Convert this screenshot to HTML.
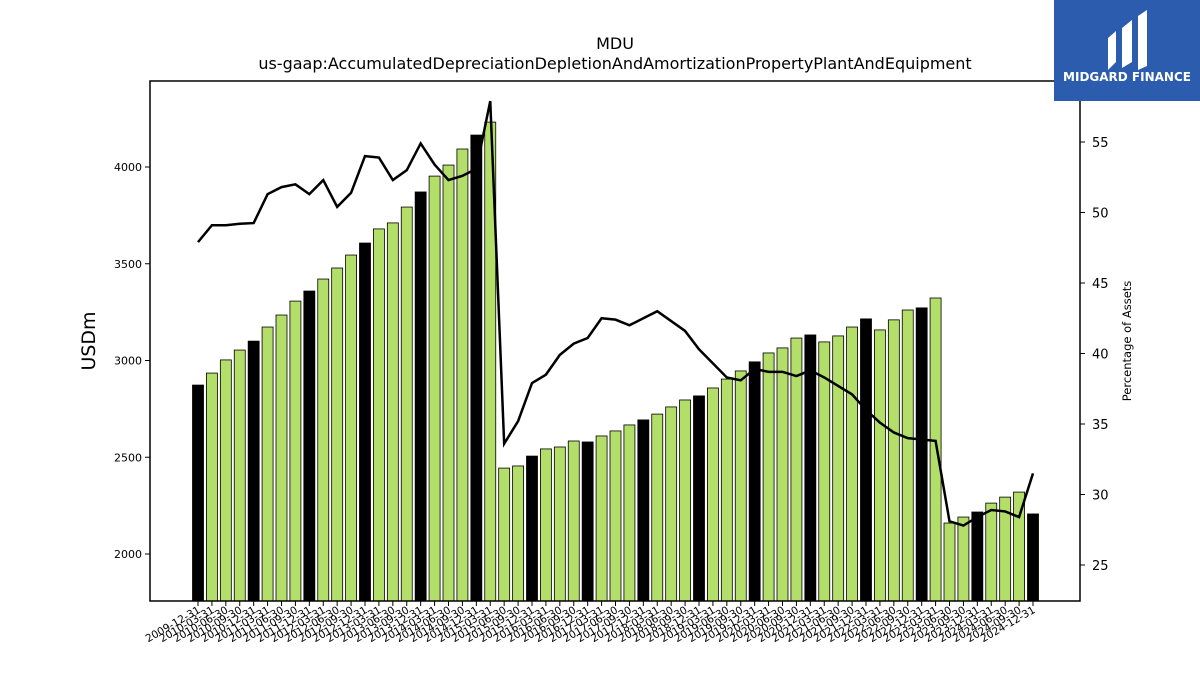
<!DOCTYPE html>
<html><head><meta charset="utf-8"><style>
body{margin:0;background:#fff;}
svg text{font-family:"DejaVu Sans","Liberation Sans",sans-serif;}
</style></head><body>
<svg id="chart" width="1200" height="675" xmlns="http://www.w3.org/2000/svg">
<rect width="1200" height="675" fill="#fff"/>
<text x="615" y="49" font-size="16" text-anchor="middle">MDU</text>
<text x="615" y="69" font-size="16" text-anchor="middle">us-gaap:AccumulatedDepreciationDepletionAndAmortizationPropertyPlantAndEquipment</text>
<g id="bars"></g>
<g id="line"></g>
<rect x="150" y="81" width="930" height="520" fill="none" stroke="#000" stroke-width="1.5"/>
<g id="yleft"></g>
<g id="yright"></g>
<g id="xaxis"></g>
<text transform="translate(95,341) rotate(-90)" font-size="19" text-anchor="middle">USDm</text>
<text transform="translate(1131,341) rotate(-90)" font-size="11.5" text-anchor="middle">Percentage of Assets</text>
<g>
<rect x="1054" y="0" width="146" height="101" fill="#2b5cad"/>
<path d="M1108 70 L1108 38 L1116 31 L1116 62 Z M1122 68 L1122 28 L1132 20 L1132 62 Z M1138 70 L1138 16 L1147 10 L1147 66 Z" fill="#fff"/>
<text x="1127" y="81" font-size="12" font-weight="bold" fill="#fff" text-anchor="middle">MIDGARD FINANCE</text>
</g>
</svg>
<script>
const categories=["2009-12-31","2010-03-31","2010-06-30","2010-09-30","2010-12-31","2011-03-31","2011-06-30","2011-09-30","2011-12-31","2012-03-31","2012-06-30","2012-09-30","2012-12-31","2013-03-31","2013-06-30","2013-09-30","2013-12-31","2014-03-31","2014-06-30","2014-09-30","2014-12-31","2015-03-31","2015-06-30","2015-09-30","2015-12-31","2016-03-31","2016-06-30","2016-09-30","2016-12-31","2017-03-31","2017-06-30","2017-09-30","2017-12-31","2018-03-31","2018-06-30","2018-09-30","2018-12-31","2019-03-31","2019-06-30","2019-09-30","2019-12-31","2020-03-31","2020-06-30","2020-09-30","2020-12-31","2021-03-31","2021-06-30","2021-09-30","2021-12-31","2022-03-31","2022-06-30","2022-09-30","2022-12-31","2023-03-31","2023-06-30","2023-09-30","2023-12-31","2024-03-31","2024-06-30","2024-09-30","2024-12-31"];
const values=[2873,2935,3003,3054,3100,3173,3235,3307,3359,3421,3478,3545,3607,3680,3711,3793,3871,3953,4010,4093,4165,4232,2444,2455,2506,2543,2553,2584,2579,2610,2636,2667,2693,2723,2760,2796,2817,2858,2904,2946,2993,3039,3065,3116,3132,3096,3127,3173,3215,3158,3210,3261,3272,3323,2160,2191,2217,2263,2294,2320,2207];
const pct=[47.9,49.1,49.1,49.2,49.25,51.3,51.8,52.0,51.3,52.3,50.4,51.4,54.0,53.9,52.3,53.0,54.9,53.4,52.3,52.6,53.1,57.9,33.6,35.2,37.9,38.5,39.9,40.7,41.1,42.5,42.4,42.0,42.5,43.0,42.3,41.6,40.3,39.3,38.3,38.1,38.9,38.7,38.7,38.4,38.8,38.3,37.7,37.1,36.0,35.1,34.4,34.0,33.9,33.8,28.1,27.8,28.4,28.9,28.8,28.4,31.5];
const leftTicks=[2000,2500,3000,3500,4000];
const rightTicks=[25,30,35,40,45,50,55];
const NS="http://www.w3.org/2000/svg";
const x0=198,step=(1033-198)/60;
const xs=i=>x0+i*step;
const yl=v=>554-(v-2000)*0.1935;
const yr=p=>565-(p-25)*14.1;
const bottom=601;
function mk(tag,attrs,parent){const e=document.createElementNS(NS,tag);for(const k in attrs)e.setAttribute(k,attrs[k]);parent.appendChild(e);return e;}
const gb=document.getElementById('bars');
values.forEach((v,i)=>{
  const yearEnd=categories[i].endsWith('12-31');
  const r=mk('rect',{x:xs(i)-5.5,y:yl(v),width:11,height:bottom-yl(v),fill:yearEnd?'#000':'#b3de69',stroke:'#000','stroke-width':0.8},gb);
  
  
});
const gl=document.getElementById('line');
const pl=mk('polyline',{points:pct.map((p,i)=>xs(i)+','+yr(p)).join(' '),fill:'none',stroke:'#000','stroke-width':2.5},gl);


const gyl=document.getElementById('yleft');
leftTicks.forEach(t=>{
  const y=yl(t);
  mk('line',{x1:145,x2:150,y1:y,y2:y,stroke:'#000'},gyl);
  const tx=mk('text',{x:142,y:y+4,'font-size':11,'text-anchor':'end'},gyl);tx.textContent=t;
  
  
});
const gyr=document.getElementById('yright');
rightTicks.forEach(t=>{
  const y=yr(t);
  mk('line',{x1:1080,x2:1085,y1:y,y2:y,stroke:'#000'},gyr);
  const tx=mk('text',{x:1092,y:y+5,'font-size':13},gyr);tx.textContent=t;
  
  
});
const gx=document.getElementById('xaxis');
categories.forEach((c,i)=>{
  const x=xs(i);
  mk('line',{x1:x,x2:x,y1:601,y2:606,stroke:'#000'},gx);
  const tx=mk('text',{transform:`translate(${x+3},${612}) rotate(-30)`,'font-size':10.5,'text-anchor':'end'},gx);tx.textContent=c;
  
  
});
</script>
</body></html>
